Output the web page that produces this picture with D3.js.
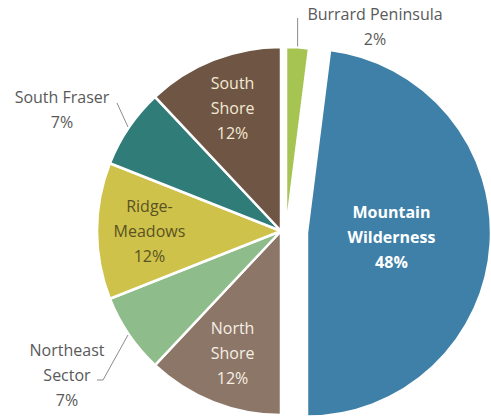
<!DOCTYPE html>
<html>
<head>
<meta charset="utf-8">
<script src="https://cdn.jsdelivr.net/npm/d3@7/dist/d3.min.js"></script>
<style>
  html, body { margin: 0; padding: 0; background: #ffffff; }
  svg { display: block; }
  text { font-family: "Open Sans", "Noto Sans", sans-serif; }
</style>
</head>
<body>
<svg id="chart" width="491" height="420"></svg>
<script>
// Land share by region, clockwise from 12 o'clock
const regions = ["Burrard Peninsula", "Mountain Wilderness", "North Shore", "Northeast Sector",
                 "Ridge-Meadows", "South Fraser", "South Shore"];
const shares  = [2, 48, 12, 7, 12, 7, 12];
const labelLines = [
  ["Burrard Peninsula"],
  ["Mountain", "Wilderness"],
  ["North", "Shore"],
  ["Northeast", "Sector"],
  ["Ridge-", "Meadows"],
  ["South Fraser"],
  ["South", "Shore"]
];

const colors = {
  "Burrard Peninsula": "#a5c452",
  "Mountain Wilderness": "#3e80a7",
  "North Shore": "#8c7667",
  "Northeast Sector": "#8fbc8b",
  "Ridge-Meadows": "#cfc24b",
  "South Fraser": "#2f7c79",
  "South Shore": "#6f5543"
};
// pulled-out slices: shift in px (dx, dy)
const explode = { "Burrard Peninsula": [5, 0], "Mountain Wilderness": [26, 1.6] };
// inside labels: style and radial position as fraction of radius
const inside = {
  "Mountain Wilderness": { f: 0.46, fill: "#ffffff", weight: 700 },
  "North Shore": { f: 0.715, fill: "#f6efe4", weight: 400 },
  "Ridge-Meadows": { f: 0.715, fill: "#5a5222", weight: 400 },
  "South Shore": { f: 0.715, fill: "#f3e9d4", weight: 400 }
};

const svg = d3.select("#chart");
const cx = 281, cy = 231, R = 184;
const fontSize = 16, lineH = 25;
const g = svg.append("g").attr("transform", `translate(${cx},${cy})`);

const data = regions.map((name, i) => ({ name, value: shares[i], lines: labelLines[i] }));
const pie = d3.pie().value(d => d.value).sort(null);
const arcs = pie(data);
const arc = d3.arc().innerRadius(0).outerRadius(R);

function mid(d) { return (d.startAngle + d.endAngle) / 2; }
function offset(d) { return explode[d.data.name] || [0, 0]; }
function polar(a, r) { return [r * Math.sin(a), -r * Math.cos(a)]; }

g.selectAll("path.slice")
  .data(arcs)
  .join("path")
  .attr("class", "slice")
  .attr("d", arc)
  .attr("transform", d => `translate(${offset(d)})`)
  .attr("fill", d => colors[d.data.name])
  .attr("stroke", "#ffffff")
  .attr("stroke-width", 2.5)
  .attr("stroke-linejoin", "round");

// labels inside slices
arcs.filter(d => inside[d.data.name]).forEach(d => {
  const s = inside[d.data.name];
  const [ox, oy] = offset(d);
  const [px, py] = polar(mid(d), R * s.f);
  const lines = d.data.lines.concat([d.data.value + "%"]);
  const t = g.append("text")
    .attr("text-anchor", "middle")
    .attr("fill", s.fill)
    .attr("font-weight", s.weight)
    .attr("font-size", fontSize);
  lines.forEach((ln, i) => {
    t.append("tspan")
      .attr("x", ox + px)
      .attr("y", oy + py + (i - (lines.length - 1) / 2) * lineH + 5.5)
      .text(ln);
  });
});

// outside labels with leader lines: text anchor point and elbow, relative to center
const outside = {
  "Burrard Peninsula": { tx: 94, ty: -217, elbow: [[null, -213]] },
  "South Fraser": { tx: -219, ty: -134, elbow: [[-164, -128]] },
  "Northeast Sector": { tx: -214, ty: 119, elbow: [[-178, 149], [-184, 149]] }
};
arcs.filter(d => outside[d.data.name]).forEach(d => {
  const o = outside[d.data.name];
  const [ox, oy] = offset(d);
  const [ax, ay] = polar(mid(d), R + 1);
  const start = [ox + ax, oy + ay];
  const pts = [start];
  o.elbow.forEach(p => pts.push([p[0] === null ? start[0] : p[0], p[1]]));
  g.append("path")
    .attr("d", d3.line()(pts))
    .attr("fill", "none")
    .attr("stroke", "#8c8c8c")
    .attr("stroke-width", 1);
  const lines = d.data.lines.concat([d.data.value + "%"]);
  const t = g.append("text")
    .attr("text-anchor", "middle")
    .attr("fill", "#595959")
    .attr("font-size", fontSize);
  lines.forEach((ln, i) => {
    t.append("tspan")
      .attr("x", o.tx)
      .attr("y", o.ty + i * lineH + 5.5)
      .text(ln);
  });
});
</script>
</body>
</html>
